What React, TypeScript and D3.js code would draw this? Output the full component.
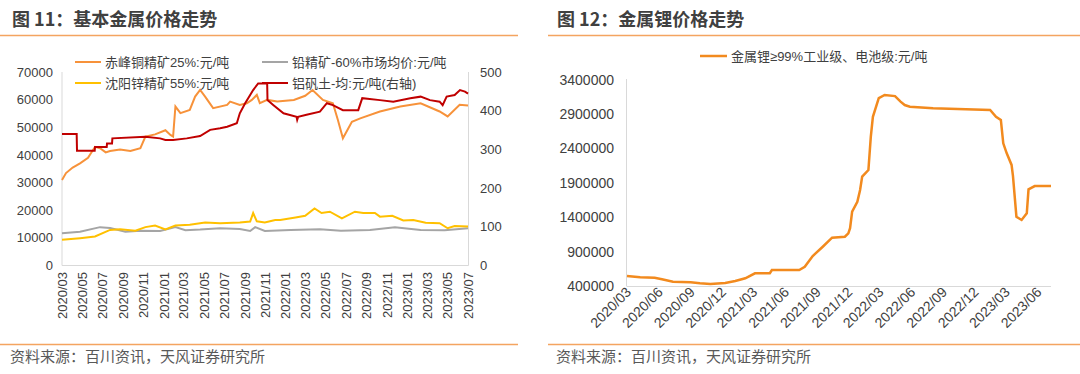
import * as d3 from 'd3';

// ---- data ----
const leftTicks = ['2020/03','2020/05','2020/07','2020/09','2020/11','2021/01','2021/03','2021/05','2021/07','2021/09','2021/11','2022/01','2022/03','2022/05','2022/07','2022/09','2022/11','2023/01','2023/03','2023/05','2023/07'];
const leftYTicks = [0, 10000, 20000, 30000, 40000, 50000, 60000, 70000];
const rightYTicksL = [0, 100, 200, 300, 400, 500];

const copper: [string, number][] = [
  ['2020-03-01', 31000], ['2020-03-13', 33500], ['2020-04-02', 35500], ['2020-04-24', 37000], ['2020-05-18', 39000],
  ['2020-06-08', 43000], ['2020-06-23', 42500], ['2020-07-10', 41000], ['2020-07-23', 41500], ['2020-08-22', 42000],
  ['2020-09-22', 41500], ['2020-10-22', 42500], ['2020-11-06', 46700], ['2020-12-05', 47500],
  ['2021-01-05', 49000], ['2021-01-20', 47300], ['2021-01-28', 46700], ['2021-02-04', 57600],
  ['2021-02-19', 55200], ['2021-03-19', 56400], ['2021-04-04', 61200], ['2021-04-19', 63600],
  ['2021-05-04', 61200], ['2021-05-28', 57000], ['2021-07-09', 58200], ['2021-07-18', 59400],
  ['2021-08-16', 58200], ['2021-09-06', 58800], ['2021-09-21', 60000], ['2021-10-06', 61800],
  ['2021-10-15', 58800], ['2021-11-06', 60000], ['2021-12-06', 59400], ['2022-01-25', 60000],
  ['2022-02-28', 61500], ['2022-03-22', 63600], ['2022-04-22', 60000], ['2022-05-22', 58800],
  ['2022-06-06', 52700], ['2022-06-21', 46100], ['2022-07-18', 52100], ['2022-08-12', 53300],
  ['2022-10-10', 55800], ['2022-12-10', 57600], ['2023-02-09', 58800], ['2023-04-07', 55800],
  ['2023-05-01', 54000], ['2023-06-06', 58200], ['2023-07-01', 58000],
];

const lead: [string, number][] = [
  ['2020-03-01', 11700], ['2020-04-24', 12200], ['2020-06-23', 13900], ['2020-07-23', 13600],
  ['2020-09-07', 12200], ['2020-10-22', 12600], ['2020-12-20', 12500], ['2021-02-04', 13900],
  ['2021-03-06', 12800], ['2021-04-19', 13000], ['2021-06-18', 13500], ['2021-08-16', 13200],
  ['2021-09-16', 12500], ['2021-10-01', 13900], ['2021-10-30', 12500], ['2022-01-15', 12900],
  ['2022-04-13', 13100], ['2022-06-15', 12600], ['2022-09-10', 12900], ['2022-11-24', 13900],
  ['2023-02-09', 12900], ['2023-04-22', 12800], ['2023-07-01', 13500],
];

const zinc: [string, number][] = [
  ['2020-03-01', 9300], ['2020-04-24', 9900], ['2020-06-08', 10500], ['2020-07-23', 12900],
  ['2020-08-22', 13100], ['2020-10-07', 12600], ['2020-11-06', 13900], ['2020-12-05', 14500],
  ['2021-01-05', 13100], ['2021-02-04', 14500], ['2021-03-19', 14800], ['2021-05-04', 15600],
  ['2021-06-18', 15300], ['2021-08-16', 15600], ['2021-09-16', 15900], ['2021-09-25', 19000],
  ['2021-10-06', 16000], ['2021-10-30', 15600], ['2021-11-30', 16500], ['2021-12-15', 16500],
  ['2022-01-30', 17400], ['2022-02-28', 18000], ['2022-03-28', 20700], ['2022-04-18', 19000],
  ['2022-05-13', 19500], ['2022-06-18', 17100], ['2022-07-27', 19500], ['2022-08-21', 19000],
  ['2022-09-25', 19000], ['2022-10-10', 17700], ['2022-11-16', 18000], ['2022-12-19', 16300],
  ['2023-01-18', 16500], ['2023-02-24', 15500], ['2023-04-07', 15300], ['2023-05-01', 13500],
  ['2023-05-22', 14300], ['2023-07-01', 14100],
];

const bauxite: [string, number][] = [
  ['2020-03-01', 340], ['2020-04-14', 340], ['2020-04-15', 297], ['2020-06-07', 297],
  ['2020-06-08', 307], ['2020-07-13', 307], ['2020-07-14', 316], ['2020-07-29', 316],
  ['2020-07-30', 329], ['2020-11-06', 333], ['2020-12-20', 329], ['2021-01-05', 325],
  ['2021-01-28', 325], ['2021-03-10', 329], ['2021-04-19', 335], ['2021-05-19', 351],
  ['2021-06-18', 355], ['2021-07-09', 359], ['2021-08-07', 368], ['2021-08-16', 394],
  ['2021-09-01', 420], ['2021-09-16', 441], ['2021-09-25', 454], ['2021-10-10', 471],
  ['2021-11-06', 471], ['2021-11-07', 428], ['2021-11-25', 415], ['2021-12-25', 394],
  ['2022-02-02', 385], ['2022-02-04', 377], ['2022-02-07', 385], ['2022-03-04', 390],
  ['2022-04-13', 398], ['2022-05-04', 420], ['2022-05-22', 415], ['2022-06-21', 402],
  ['2022-08-06', 402], ['2022-08-18', 433], ['2022-10-10', 428], ['2022-11-19', 424],
  ['2023-01-09', 433], ['2023-02-09', 437], ['2023-03-09', 428], ['2023-04-07', 424],
  ['2023-04-16', 415], ['2023-04-28', 437], ['2023-05-22', 441], ['2023-06-07', 454],
  ['2023-06-22', 450], ['2023-07-01', 445],
];

const rightTicks = ['2020/03','2020/06','2020/09','2020/12','2021/03','2021/06','2021/09','2021/12','2022/03','2022/06','2022/09','2022/12','2023/03','2023/06'];
const lithiumYTicks = [400000, 900000, 1400000, 1900000, 2400000, 2900000, 3400000];

const lithium: [string, number][] = [
  ['2020-03-01', 545000], ['2020-04-08', 526000], ['2020-05-20', 520000], ['2020-06-10', 497000],
  ['2020-07-12', 463000], ['2020-09-01', 455000], ['2020-09-28', 440000], ['2020-10-28', 430000],
  ['2020-12-10', 445000], ['2021-01-08', 473000], ['2021-02-06', 512000], ['2021-03-06', 585000],
  ['2021-04-18', 585000], ['2021-04-24', 633000], ['2021-07-12', 633000], ['2021-07-28', 680000],
  ['2021-08-20', 836000], ['2021-09-18', 971000], ['2021-10-15', 1102000], ['2021-11-21', 1117000],
  ['2021-12-01', 1166000], ['2021-12-06', 1239000], ['2021-12-12', 1480000], ['2021-12-27', 1625000],
  ['2022-01-04', 1795000], ['2022-01-10', 1989000], ['2022-01-28', 2086000], ['2022-02-04', 2570000],
  ['2022-02-10', 2860000], ['2022-02-27', 3130000], ['2022-03-16', 3176000], ['2022-04-15', 3160000],
  ['2022-05-01', 3080000], ['2022-05-13', 3030000], ['2022-05-28', 3006000], ['2022-08-03', 2983000],
  ['2023-01-15', 2958000], ['2023-02-01', 2860000], ['2023-02-15', 2813000], ['2023-02-22', 2474000],
  ['2023-03-04', 2328000], ['2023-03-18', 2160000], ['2023-03-22', 2000000], ['2023-04-01', 1407000],
  ['2023-04-16', 1360000], ['2023-05-01', 1457000], ['2023-05-06', 1805000], ['2023-05-24', 1853000],
  ['2023-07-10', 1853000],
];

const FONT = '"Liberation Sans", Arial, "Noto Sans CJK SC", sans-serif';
const CJK = '"Noto Sans CJK SC", "Liberation Sans", sans-serif';
const AXIS = '#D9D9D9';
const TXT = '#404040';
const RULE = '#F4A460';

const parseDay = d3.timeParse('%Y-%m-%d');
const parseMonth = d3.timeParse('%Y/%m');

const App = () => {
  // left chart scales
  const xL = d3.scaleTime()
    .domain([parseDay('2020-03-01')!, parseDay('2023-07-01')!])
    .range([62, 468]);
  const yL = d3.scaleLinear().domain([0, 70000]).range([265.5, 72.3]);
  const yR = d3.scaleLinear().domain([0, 500]).range([265.5, 72.3]);

  const lineL = d3.line<[string, number]>()
    .x(d => xL(parseDay(d[0])!))
    .y(d => yL(d[1]));
  const lineR = d3.line<[string, number]>()
    .x(d => xL(parseDay(d[0])!))
    .y(d => yR(d[1]));

  // right chart scales
  const x2 = d3.scaleTime()
    .domain([parseDay('2020-03-01')!, parseDay('2023-07-10')!])
    .range([627, 1051]);
  const y2 = d3.scaleLinear().domain([400000, 3400000]).range([286, 79.6]);
  const line2 = d3.line<[string, number]>()
    .x(d => x2(parseDay(d[0])!))
    .y(d => y2(d[1]));

  const legendL = [
    { label: '赤峰铜精矿25%:元/吨', color: '#F7923A', x: 75, y: 62 },
    { label: '沈阳锌精矿55%:元/吨', color: '#FFC000', x: 75, y: 83 },
    { label: '铅精矿-60%市场均价:元/吨', color: '#A5A5A5', x: 262, y: 62 },
    { label: '铝矾土-均:元/吨(右轴)', color: '#C00000', x: 262, y: 83 },
  ];

  return (
    <svg width={1080} height={374} style={{ position: 'absolute', left: 0, top: 0, background: '#fff' }}>
      {/* titles and rules */}
      <text x={12} y={26} fontFamily={CJK} fontSize={18} fontWeight="bold" fill={TXT}>图 11：基本金属价格走势</text>
      <text x={557} y={26} fontFamily={CJK} fontSize={18} fontWeight="bold" fill={TXT}>图 12：金属锂价格走势</text>
      <line x1={0} x2={518} y1={35.5} y2={35.5} stroke={RULE} strokeWidth={1.5} />
      <line x1={548} x2={1080} y1={35.5} y2={35.5} stroke={RULE} strokeWidth={1.5} />
      <line x1={0} x2={518} y1={344.5} y2={344.5} stroke={RULE} strokeWidth={1.5} />
      <line x1={548} x2={1080} y1={344.5} y2={344.5} stroke={RULE} strokeWidth={1.5} />
      <text x={10} y={362} fontFamily={CJK} fontSize={15} fill="#595959">资料来源：百川资讯，天风证券研究所</text>
      <text x={556} y={362} fontFamily={CJK} fontSize={15} fill="#595959">资料来源：百川资讯，天风证券研究所</text>

      {/* ---- left chart ---- */}
      <line x1={62} x2={62} y1={72} y2={265.5} stroke={AXIS} />
      <line x1={468.5} x2={468.5} y1={72} y2={265.5} stroke={AXIS} />
      <line x1={62} x2={468.5} y1={265.5} y2={265.5} stroke={AXIS} />
      {leftYTicks.map(v => (
        <text key={'ly' + v} x={53} y={yL(v)} dy="0.35em" textAnchor="end" fontFamily={FONT} fontSize={13} fill={TXT}>{v}</text>
      ))}
      {rightYTicksL.map(v => (
        <text key={'ry' + v} x={480} y={yR(v)} dy="0.35em" fontFamily={FONT} fontSize={13} fill={TXT}>{v}</text>
      ))}
      {leftTicks.map(t => {
        const x = xL(parseMonth(t)!);
        return (
          <text key={'lx' + t} transform={`translate(${x + 4.5},272) rotate(-90)`} textAnchor="end" fontFamily={FONT} fontSize={13} fill={TXT}>{t}</text>
        );
      })}
      <path d={lineL(lead)!} fill="none" stroke="#A5A5A5" strokeWidth={2} />
      <path d={lineL(zinc)!} fill="none" stroke="#FFC000" strokeWidth={2} />
      <path d={lineL(copper)!} fill="none" stroke="#F7923A" strokeWidth={2} />
      <path d={lineR(bauxite)!} fill="none" stroke="#C00000" strokeWidth={2} />
      {legendL.map(l => (
        <g key={l.label}>
          <line x1={l.x} x2={l.x + 26} y1={l.y} y2={l.y} stroke={l.color} strokeWidth={2} />
          <text x={l.x + 30} y={l.y} dy="0.35em" fontFamily={FONT} fontSize={13} fill={TXT}>{l.label}</text>
        </g>
      ))}

      {/* ---- right chart ---- */}
      <line x1={626.5} x2={626.5} y1={79} y2={286} stroke={AXIS} />
      <line x1={626.5} x2={1051} y1={286.5} y2={286.5} stroke={AXIS} />
      {lithiumYTicks.map(v => (
        <text key={'l2' + v} x={614} y={y2(v)} dy="0.35em" textAnchor="end" fontFamily={FONT} fontSize={14} fill={TXT}>{v}</text>
      ))}
      {rightTicks.map(t => {
        const x = x2(parseMonth(t)!);
        return (
          <text key={'x2' + t} transform={`translate(${x + 5},293) rotate(-45)`} textAnchor="end" fontFamily={FONT} fontSize={14} fill={TXT}>{t}</text>
        );
      })}
      <path d={line2(lithium)!} fill="none" stroke="#F28A1E" strokeWidth={2.5} />
      <line x1={700} x2={727} y1={56} y2={56} stroke="#F28A1E" strokeWidth={2.5} />
      <text x={731} y={56} dy="0.35em" fontFamily={FONT} fontSize={13} fill={TXT}>金属锂≥99%工业级、电池级:元/吨</text>
    </svg>
  );
};

export default App;
